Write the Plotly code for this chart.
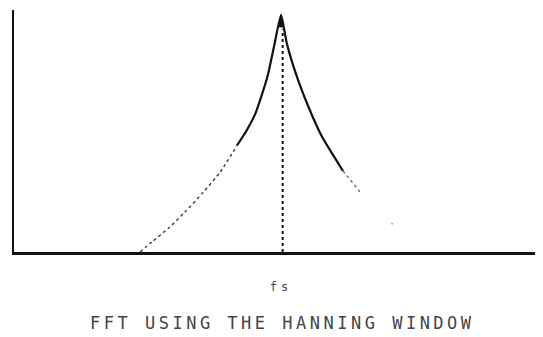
import plotly.graph_objects as go

# fréquence relative (en bins autour de fs) et amplitude normalisée
freq_main = [-1.65, -1.3, -0.95, -0.52, -0.26, 0.0, 0.22, 0.64, 1.16, 1.54, 1.95, 2.32]
amp_main = [0.44, 0.50, 0.575, 0.72, 0.85, 0.98, 0.86, 0.71, 0.565, 0.475, 0.40, 0.335]

freq_apex = [-0.09, 0.0, 0.08, -0.09]
amp_apex = [0.93, 0.98, 0.93, 0.93]

freq_left_tail = [-5.28, -4.83, -4.2, -3.6, -2.92, -2.28, -1.65]
amp_left_tail = [0.0, 0.042, 0.10, 0.165, 0.246, 0.33, 0.44]

freq_right_tail = [2.32, 2.77, 3.03]
amp_right_tail = [0.335, 0.272, 0.238]
freq_right_dot = [4.16]
amp_right_dot = [0.117]

fs_line_x = [0.06, 0.06]
fs_line_y = [0.0, 0.92]

tick_vals = [0]
tick_text = ['<span style="letter-spacing:4px">fs</span>']
title_text = "FFT USING THE HANNING WINDOW"

fig = go.Figure()

fig.add_trace(go.Scatter(x=freq_left_tail, y=amp_left_tail, mode="lines",
                         line=dict(color="#444", width=1.5, dash="dot", shape="spline", smoothing=0.6)))
fig.add_trace(go.Scatter(x=freq_right_tail, y=amp_right_tail, mode="lines",
                         line=dict(color="#666", width=1.3, dash="dot")))
fig.add_trace(go.Scatter(x=freq_right_dot, y=amp_right_dot, mode="markers",
                         marker=dict(color="#aaa", size=2)))
fig.add_trace(go.Scatter(x=freq_main, y=amp_main, mode="lines",
                         line=dict(color="#111", width=2.2, shape="spline", smoothing=0.5)))
fig.add_trace(go.Scatter(x=freq_apex, y=amp_apex, mode="lines", fill="toself",
                         fillcolor="#111", line=dict(color="#111", width=1)))
fig.add_trace(go.Scatter(x=fs_line_x, y=fs_line_y, mode="lines",
                         line=dict(color="#111", width=2, dash="dot")))

# la page a une marge de 8 px : la figure est réduite d'autant
fig.update_layout(
    width=535, height=329,
    margin=dict(l=6, r=0, t=2, b=85),
    plot_bgcolor="white", paper_bgcolor="white",
    showlegend=False,
    font=dict(family="DejaVu Sans Mono", color="#333"),
    xaxis=dict(range=[-10, 9.81], showgrid=False, zeroline=False,
               showline=True, linecolor="#111", linewidth=2.5,
               tickvals=tick_vals, ticktext=tick_text, ticks="",
               tickfont=dict(size=12, color="#444"), ticklabelstandoff=22),
    yaxis=dict(range=[0, 1.0], showgrid=False, zeroline=False,
               showline=True, linecolor="#111", linewidth=2,
               showticklabels=False, ticks=""),
    annotations=[dict(text='<span style="letter-spacing:3.5px">' + title_text + "</span>",
                      x=0.507, y=-0.293, xref="paper", yref="paper",
                      showarrow=False, xanchor="center", yanchor="middle",
                      font=dict(size=17, color="#444"))],
)

fig.write_html("out.html")
